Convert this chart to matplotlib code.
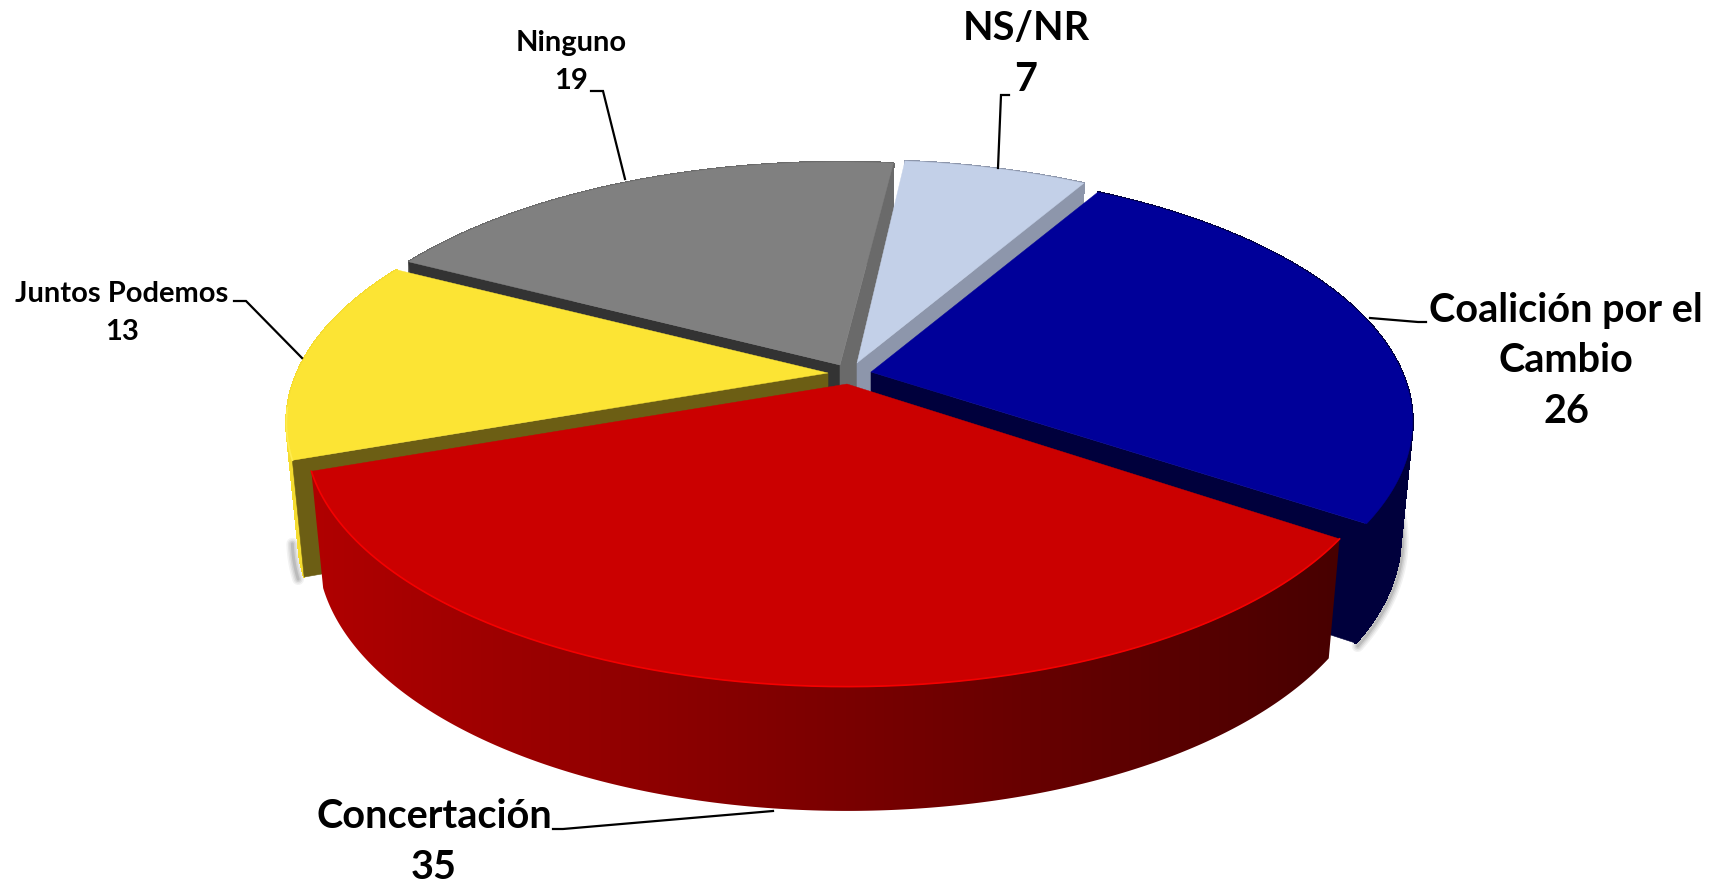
import numpy as np
import matplotlib
matplotlib.use("Agg")
import matplotlib.pyplot as plt
from matplotlib.patches import Polygon
from matplotlib.collections import PolyCollection
from matplotlib.colors import LinearSegmentedColormap

categories = ["NS/NR", "Coalición por el\nCambio", "Concertación", "Juntos Podemos", "Ninguno"]
values = [7, 26, 35, 13, 19]

# styling, one entry per slice (None = wall faces away from the viewer)
top_colors = ["#C3D0E8", "#000099", "#CB0000", "#FCE434", "#808080"]
start_wall = [None, None, None, "#6C5E14", "#333333"]
end_wall = ["#8D96AB", "#00003C", None, None, "#6A6A6A"]
outer_wall = ["#8D96AB", "#00003C", None, "#F5DC30", "#6A6A6A"]
apex = [(857, 363), (871, 372), (847, 384), (828, 373), (840, 365)]
draw_order = [4, 0, 3, 1, 2]
start_nudge_deg = [0.2, -1.2, -0.3, -0.4, 0.0]
end_nudge_deg = [-1.2, -1.0, -0.4, 0.0, 0.9]

START_DEG = 6.0
A, B, K = 531.0, 243.0, 0.197
DEPTH, DEPTH_K, SHRINK = 113.0, 0.10, 0.978

plt.rcParams["font.family"] = ["Lato", "DejaVu Sans"]
fig = plt.figure(figsize=(17.23, 8.86), dpi=100)
ax = fig.add_axes([0, 0, 1, 1])
ax.set_xlim(0, 1723)
ax.set_ylim(886, 0)
ax.axis("off")


def top_pt(t, o):
    X, Y = np.sin(t), -np.cos(t)
    f = 1 / (1 - K * Y)
    return np.column_stack([o[0] + A * X * f, o[1] + B * Y * f])


def bottom_pt(t, o):
    p = top_pt(t, o)
    Y = -np.cos(t)
    return np.column_stack([o[0] + (p[:, 0] - o[0]) * SHRINK, p[:, 1] + DEPTH * (1 + DEPTH_K * Y)])


total = sum(values)
cum = START_DEG + 360 * np.cumsum([0] + values) / total
starts = np.radians(cum[:-1] + np.array(start_nudge_deg))
ends = np.radians(cum[1:] + np.array(end_nudge_deg))
red_cmap = LinearSegmentedColormap.from_list("wall", ["#B00000", "#7C0000", "#480000"])


def shadow(path, offset):
    for w, al in zip([12, 9, 6, 3], [0.05, 0.06, 0.08, 0.10]):
        ax.plot(path[:, 0] + offset[0], path[:, 1] + offset[1], color="black", lw=w * 0.72,
                alpha=al, solid_capstyle="round", zorder=1)


# soft shadows below the visible outer walls
shadow(bottom_pt(np.linspace(starts[1] + 1.05, ends[1], 60), apex[1]), (2, 3))
shadow(bottom_pt(np.linspace(starts[3], starts[3] + 0.13, 14), apex[3]), (-6, 2))

z = 2
for i in draw_order:
    t = np.linspace(starts[i], ends[i], 240)
    o = apex[i]
    rim, low = top_pt(t, o), bottom_pt(t, o)
    o2 = (o[0], o[1] + DEPTH)
    # outer wall
    if outer_wall[i] is None:
        outline = np.vstack([rim, low[::-1]])
        x0, x1 = outline[:, 0].min(), outline[:, 0].max()
        y0, y1 = outline[:, 1].min(), outline[:, 1].max()
        grad = np.linspace(0, 1, 400).reshape(1, -1)
        im = ax.imshow(grad, cmap=red_cmap, extent=(x0, x1, y1, y0), aspect="auto", zorder=z,
                       interpolation="bilinear")
        poly = Polygon(outline, closed=True, transform=ax.transData, fc="none", ec="none")
        ax.add_patch(poly)
        im.set_clip_path(poly)
    else:
        quads = [[rim[j], rim[j + 1], low[j + 1], low[j]] for j in range(len(t) - 1)]
        ax.add_collection(PolyCollection(quads, facecolors=outer_wall[i], edgecolors=outer_wall[i],
                                         linewidths=1.0, antialiaseds=False, zorder=z))
    # radial walls that face the viewer
    for col, idx in ((start_wall[i], 0), (end_wall[i], -1)):
        if col is not None:
            ax.add_patch(Polygon([o, rim[idx], low[idx], o2], closed=True, fc=col, ec=col, lw=0.4, zorder=z))
    # top face
    ax.add_patch(Polygon(np.vstack([[o], rim]), closed=True, fc=top_colors[i], ec=top_colors[i], lw=0.3, zorder=z))
    if i == 2:
        ax.plot(rim[:, 0], rim[:, 1], color="#F40000", lw=1.2, zorder=z)
    if i == 3:
        ax.plot(rim[:60, 0], rim[:60, 1], color="#FFEC50", lw=1.2, zorder=z)
    z += 1

ax.set_xlim(0, 1723)
ax.set_ylim(886, 0)

# labels and leader lines
big, small = 28.5, 21
labels = [
    (categories[0], values[0], 1026, 54, big, 1.45, [(998, 168), (1001, 95), (1009, 95)]),
    (categories[1], values[1], 1566, 361, big, 1.45, [(1370, 318), (1418, 322), (1426, 322)]),
    (categories[2], values[2], 434, 842, big, 1.45, [(773, 811), (563, 829), (553, 829)]),
    (categories[3], values[3], 122, 313, small, 1.55, [(302, 358), (246, 301), (234, 301)]),
    (categories[4], values[4], 571, 62, small, 1.55, [(625, 179), (603, 91), (591, 91)]),
]
for name, val, x, y, fs, ls, path in labels:
    ax.text(x, y, f"{name}\n{val}", ha="center", va="center", fontsize=fs, fontweight="bold",
            color="black", linespacing=ls, zorder=20)
    px, py = zip(*path)
    ax.plot(px, py, color="black", lw=1.6, zorder=19, solid_joinstyle="miter")

fig.savefig("out.png", dpi=100, facecolor="white")
